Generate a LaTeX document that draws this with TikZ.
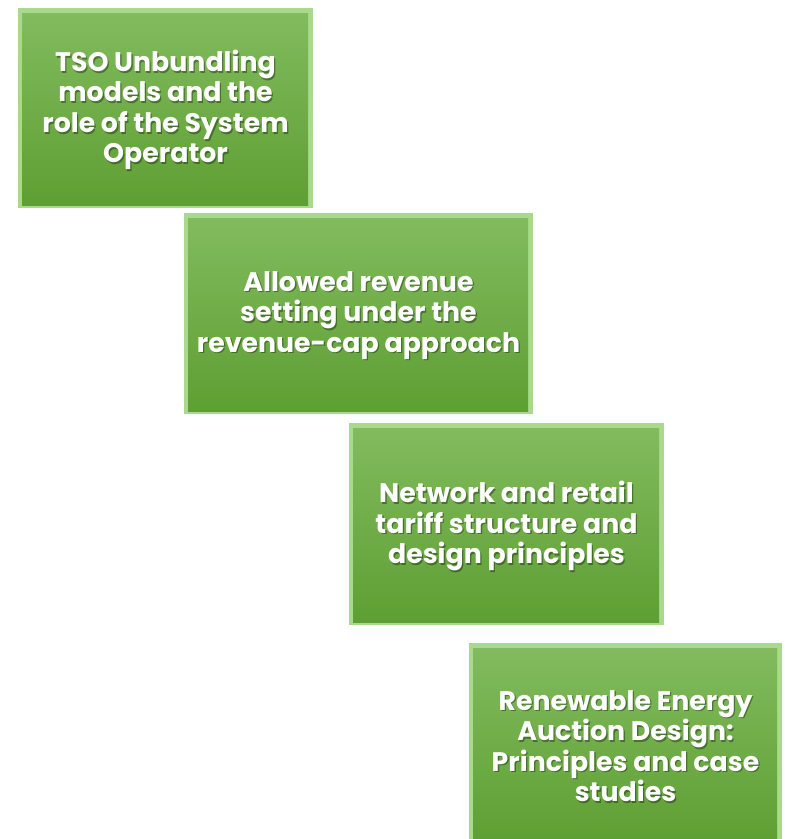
\documentclass[tikz,border=0pt]{standalone}
\usepackage{fontspec}
\setmainfont{Poppins}
\usetikzlibrary{positioning}
\definecolor{gtop}{HTML}{82BB5E}
\definecolor{gbot}{HTML}{5E9F33}
\definecolor{gedge}{HTML}{A9D98C}
\tikzset{
  txt/.style={text=white, font=\fontsize{26.8}{30.5}\selectfont\bfseries, align=center, inner sep=0pt},
  shd/.style={text=black, text opacity=0.35, font=\fontsize{26.8}{30.5}\selectfont\bfseries, align=center, inner sep=0pt},
}
\newcommand{\bevbox}[6]{% name, x1, y1, x2, y2, text
  \fill[gedge] (#2,#3) rectangle (#4,#5);
  \shade[top color=gtop, bottom color=gbot] (#2+4,#3+5) rectangle (#4-5,#5-3);
  \node[coordinate] (#1) at ({(#2+#4)/2},{(#3+#5)/2+2}) {};
  \node[shd] at ([xshift=1.3pt,yshift=-1.6pt]#1) {#6};
  \node[txt] at (#1) {#6};
}
\begin{document}
\begin{tikzpicture}[x=1pt,y=-1pt]
\useasboundingbox (0,0) rectangle (785,839);
\clip (0,0) rectangle (785,839);
\bevbox{b1}{18}{8}{313}{208}{TSO Unbundling\\models and the\\role of the System\\Operator}
\bevbox{b2}{184}{213}{533}{414}{Allowed revenue\\setting under the\\revenue-cap approach}
\bevbox{b3}{349}{423}{664}{625}{Network and retail\\tariff structure and\\design principles}
\bevbox{b4}{469}{643}{782}{845}{Renewable Energy\\Auction Design:\\Principles and case\\studies}
\end{tikzpicture}
\end{document}
